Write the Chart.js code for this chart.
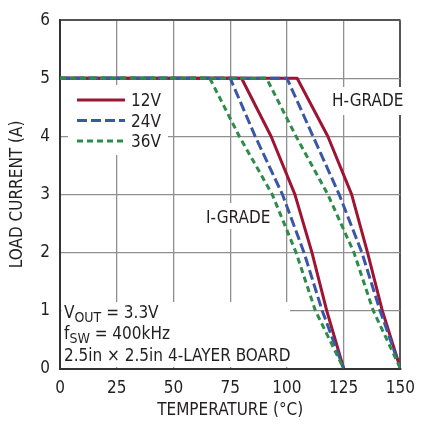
<!DOCTYPE html>
<html>
<head>
<meta charset="utf-8">
<script src="https://cdn.jsdelivr.net/npm/chart.js@4"></script>
<style>
  html, body { margin: 0; padding: 0; background: #fff; }
  #deratingChart { display: block; }
</style>
</head>
<body>
<canvas id="deratingChart" width="425" height="425"></canvas>
<script>
// load current points shared by every curve (A)
const loadCurrent = [5, 5, 4, 3, 2, 1, 0];

// temperature (°C) where each curve reaches the currents above
const iGrade12V = [0, 80, 93, 103.5, 111, 117.5, 125];
const iGrade24V = [0, 75, 86, 98, 107.5, 115.5, 125];
const iGrade36V = [0, 66, 79, 93.5, 104, 112.5, 125];
const hGrade12V = [0, 104.5, 118, 128.5, 135.5, 142, 150];
const hGrade24V = [0, 100, 111.5, 123, 133, 141, 150];
const hGrade36V = [0, 91, 104, 118, 129.5, 138, 150];

const xTicks = [0, 25, 50, 75, 100, 125, 150];
const yTicks = [0, 1, 2, 3, 4, 5, 6];

const FONT = "'DejaVu Sans Condensed', 'Liberation Sans', sans-serif";
const INK = '#231f20';
const SIZE = 17;

const styles = {
    '12V': { color: '#9e1432', dash: [], order: 3 },
    '24V': { color: '#3a56a6', dash: [10, 4], order: 2 },
    '36V': { color: '#2e8c4b', dash: [6, 4], order: 1 }
};

function toPoints(temps) {
    return temps.map((t, i) => ({ x: t, y: loadCurrent[i] }));
}

function makeSet(label, temps) {
    const s = styles[label];
    return {
        label: label,
        data: toPoints(temps),
        borderColor: s.color,
        borderDash: s.dash,
        borderWidth: 3,
        borderJoinStyle: 'round',
        pointRadius: 0,
        tension: 0,
        fill: false,
        order: s.order
    };
}

// white panels behind the text blocks, then legend and notes on top
const notes = {
    id: 'notes',
    beforeDatasetsDraw(chart) {
        const ctx = chart.ctx;
        const a = chart.chartArea;
        ctx.save();
        ctx.fillStyle = '#fff';
        ctx.fillRect(68, 85, 100, 70);
        ctx.fillRect(202, 203, 72, 26);
        ctx.fillRect(328, 87, 80, 28);
        ctx.fillRect(a.left + 1.5, 302, 290 - a.left - 1.5, a.bottom - 302 - 1.5);
        ctx.restore();
    },
    afterDatasetsDraw(chart) {
        const ctx = chart.ctx;
        const big = SIZE + 'px ' + FONT;
        const small = '14px ' + FONT;
        ctx.save();
        ctx.fillStyle = INK;
        ctx.textBaseline = 'alphabetic';
        ctx.textAlign = 'left';

        // legend
        ['12V', '24V', '36V'].forEach((label, i) => {
            const s = styles[label];
            const y = 100 + i * 20.5;
            ctx.strokeStyle = s.color;
            ctx.lineWidth = 3;
            ctx.setLineDash(s.dash);
            ctx.beginPath();
            ctx.moveTo(77, y);
            ctx.lineTo(125, y);
            ctx.stroke();
            ctx.font = big;
            ctx.fillText(label, 131, y + 6);
        });
        ctx.setLineDash([]);

        ctx.font = big;
        ctx.fillText('I-GRADE', 206, 223);
        ctx.fillText('H-GRADE', 332, 106);

        // operating conditions
        let x = 64;
        ctx.fillText('V', x, 318);
        x += ctx.measureText('V').width;
        ctx.font = small;
        ctx.fillText('OUT', x, 322);
        x += ctx.measureText('OUT').width;
        ctx.font = big;
        ctx.fillText(' = 3.3V', x, 318);

        x = 64;
        ctx.fillText('f', x, 339);
        x += ctx.measureText('f').width;
        ctx.font = small;
        ctx.fillText('SW', x, 343);
        x += ctx.measureText('SW').width;
        ctx.font = big;
        ctx.fillText(' = 400kHz', x, 339);

        ctx.fillText('2.5in \u00d7 2.5in 4-LAYER BOARD', 64, 361);
        ctx.restore();
    }
};

Chart.defaults.font.family = FONT;
Chart.defaults.color = INK;

const edgeGrid = (max) => ({
    color: (c) => c.tick && c.tick.value === max ? '#555' : '#8f8f8f',
    lineWidth: (c) => c.tick && c.tick.value === max ? 2 : 1.3,
    drawTicks: false
});

new Chart(document.getElementById('deratingChart'), {
    type: 'line',
    data: {
        datasets: [
            makeSet('12V', iGrade12V),
            makeSet('24V', iGrade24V),
            makeSet('36V', iGrade36V),
            makeSet('12V', hGrade12V),
            makeSet('24V', hGrade24V),
            makeSet('36V', hGrade36V)
        ]
    },
    options: {
        responsive: false,
        animation: false,
        layout: { padding: { top: 17, right: 12, left: 0, bottom: 0 } },
        plugins: {
            legend: { display: false },
            tooltip: { enabled: false }
        },
        scales: {
            x: {
                type: 'linear',
                min: 0,
                max: 150,
                afterBuildTicks: (scale) => { scale.ticks = xTicks.map(v => ({ value: v })); },
                afterFit: (scale) => { scale.height = 56.5; },
                grid: edgeGrid(150),
                border: { color: '#333', width: 2 },
                ticks: { padding: 10, font: { size: SIZE }, color: INK, maxRotation: 0 },
                title: {
                    display: true,
                    text: 'TEMPERATURE (\u00b0C)',
                    font: { size: SIZE },
                    color: INK,
                    padding: { top: 4, bottom: 4 }
                }
            },
            y: {
                min: 0,
                max: 6,
                afterBuildTicks: (scale) => { scale.ticks = yTicks.map(v => ({ value: v })); },
                afterFit: (scale) => { scale.width = 60; },
                grid: edgeGrid(6),
                border: { color: '#333', width: 2 },
                ticks: { padding: 10, font: { size: SIZE }, color: INK },
                title: {
                    display: true,
                    text: 'LOAD CURRENT (A)',
                    font: { size: SIZE },
                    color: INK,
                    padding: { top: 7, bottom: 0 }
                }
            }
        }
    },
    plugins: [notes]
});
</script>
</body>
</html>
